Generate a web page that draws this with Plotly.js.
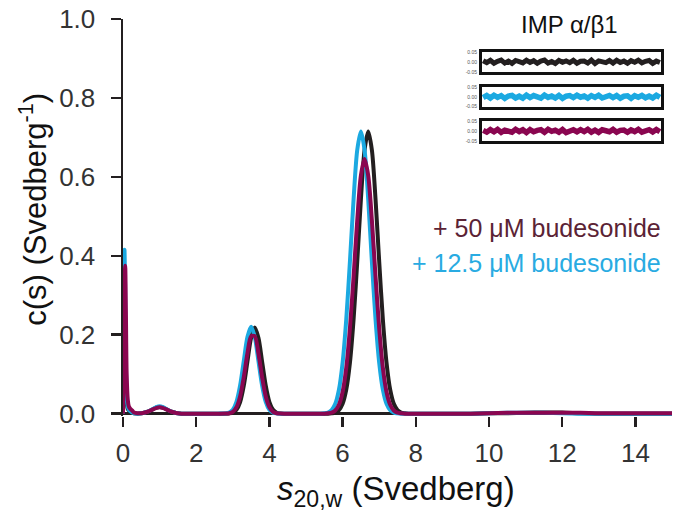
<!DOCTYPE html>
<html>
<head>
<meta charset="utf-8">
<script src="https://cdn.plot.ly/plotly-3.0.1.min.js"></script>
<style>html,body{margin:0;padding:0;background:#fff;}#chart{width:679px;height:513px;}</style>
</head>
<body>
<div id="chart"></div>
<script>
// sedimentation coefficient grid (Svedberg)
var S = [0, 0.02, 0.04, 0.06, 0.08, 0.1, 0.13, 0.16, 0.2, 0.25, 0.3,
  0.4, 0.5, 0.6, 0.7, 0.8, 0.9, 1.0, 1.1, 1.2, 1.3, 1.4, 1.5, 1.6,
  1.8, 2.0, 2.2, 2.4, 2.6, 2.8,
  2.9, 3.0, 3.1, 3.2, 3.3, 3.4, 3.5, 3.6, 3.7, 3.8, 3.9, 4.0, 4.1, 4.2, 4.3, 4.4,
  4.6, 4.8, 5.0, 5.2, 5.4,
  5.5, 5.6, 5.7, 5.8, 5.9, 6.0, 6.1, 6.2, 6.3, 6.4, 6.5, 6.6, 6.7, 6.8, 6.9, 7.0, 7.1, 7.2, 7.3, 7.4, 7.5, 7.6, 7.7, 7.8,
  8.0, 8.5, 9.0, 9.5, 10.0, 10.5, 11.0, 11.5, 12.0, 12.5, 13.0, 14.0, 15.0];

// IMP alpha/beta1 alone (black)
var cBlack = [0, 0.22, 0.30, 0.22, 0.09, 0.03, 0.012, 0.008, 0.005, 0.003, 0.001,
  0.000, 0.001, 0.003, 0.006, 0.010, 0.015, 0.017, 0.015, 0.010, 0.006, 0.003, 0.001, 0.000,
  0, 0, 0, 0, 0, 0,
  0.0005, 0.0024, 0.0096, 0.0294, 0.0708, 0.132, 0.192, 0.218, 0.192, 0.132, 0.0708, 0.0294, 0.0096, 0.0024, 0.0005, 0,
  0, 0, 0, 0, 0,
  0, 0, 0.001, 0.0028, 0.0089, 0.0248, 0.0606, 0.129, 0.239, 0.385, 0.543, 0.668, 0.715, 0.668, 0.543, 0.385, 0.239, 0.129, 0.0606, 0.0248, 0.0089, 0.0028, 0.001, 0,
  0, 0, 0, 0, 0.001, 0.001, 0.002, 0.003, 0.003, 0.001, 0, 0, 0];

// + 12.5 uM budesonide (cyan)
var cCyan = [0, 0.30, 0.415, 0.30, 0.12, 0.045, 0.018, 0.010, 0.006, 0.003, 0.001,
  0.000, 0.001, 0.003, 0.006, 0.011, 0.016, 0.019, 0.016, 0.011, 0.006, 0.003, 0.001, 0.000,
  0, 0, 0, 0, 0, 0.0005,
  0.0024, 0.0097, 0.0297, 0.0715, 0.1335, 0.194, 0.220, 0.194, 0.1335, 0.0715, 0.0297, 0.0097, 0.0024, 0.0005, 0, 0,
  0, 0, 0, 0, 0,
  0.001, 0.0028, 0.0089, 0.0248, 0.0606, 0.129, 0.239, 0.385, 0.543, 0.668, 0.715, 0.668, 0.543, 0.385, 0.239, 0.129, 0.0606, 0.0248, 0.0089, 0.0028, 0.001, 0, 0, 0,
  0, 0, 0, 0, 0.001, 0.002, 0.002, 0.002, 0.001, 0, 0, 0, 0];

// + 50 uM budesonide (magenta)
var cMagenta = [0, 0.12, 0.30, 0.375, 0.25, 0.10, 0.035, 0.018, 0.012, 0.008, 0.003,
  0.001, 0.001, 0.003, 0.006, 0.010, 0.014, 0.016, 0.014, 0.010, 0.006, 0.003, 0.001, 0,
  0, 0, 0, 0, 0, 0.0002,
  0.001, 0.0046, 0.0161, 0.0436, 0.0925, 0.1525, 0.196, 0.196, 0.1525, 0.0925, 0.0436, 0.0161, 0.0046, 0.001, 0.0002, 0,
  0, 0, 0, 0, 0,
  0, 0.001, 0.0025, 0.008, 0.0224, 0.0547, 0.116, 0.216, 0.347, 0.490, 0.603, 0.645, 0.603, 0.490, 0.347, 0.216, 0.116, 0.0547, 0.0224, 0.008, 0.0025, 0.001, 0, 0,
  0, 0, 0, 0, 0.001, 0.002, 0.002, 0.002, 0.002, 0.002, 0.001, 0.001, 0.001];

// fit residuals (insets)
var resBlack = [0.006,-0.004,0.008,-0.007,0.003,0.009,-0.006,0.004,-0.008,0.007,0.001,-0.005,0.008,-0.003,0.006,-0.007,0.004,0.009,-0.006,0.002,-0.008,0.007,-0.002,0.005,-0.004,0.008,-0.007,0.003,0.004,-0.006,0.009,-0.008,0.005,0.001,-0.004,0.007,-0.006,0.008,-0.003,0.004,-0.007,0.006,-0.002,0.008,-0.005,0.003,0.007,-0.008,0.004,-0.003];
var resCyan = [-0.004,0.007,-0.006,0.008,-0.003,0.006,-0.008,0.004,0.007,-0.006,0.003,-0.007,0.008,-0.004,0.006,0.001,-0.007,0.008,-0.003,0.004,-0.006,0.007,-0.008,0.003,0.006,-0.004,0.008,-0.002,0.004,-0.007,0.006,-0.003,0.008,-0.006,0.004,0.007,-0.004,0.006,-0.007,0.003,0.005,-0.008,0.006,-0.002,0.007,-0.005,0.004,-0.006,0.008,-0.003];
var resMagenta = [0.003,-0.006,0.007,-0.004,0.008,-0.007,0.004,0.001,-0.006,0.008,-0.003,0.006,-0.008,0.007,-0.004,0.003,0.006,-0.007,0.008,-0.002,0.004,-0.006,0.007,-0.008,0.003,0.006,-0.004,0.007,-0.003,0.008,-0.006,0.004,-0.007,0.006,0.001,-0.004,0.008,-0.006,0.003,0.004,-0.007,0.005,-0.003,0.008,-0.006,0.002,0.006,-0.005,0.007,-0.004];

var yTicks = [0, 0.2, 0.4, 0.6, 0.8, 1.0];
var xTicks = [0, 2, 4, 6, 8, 10, 12, 14];
var resTicks = [-0.05, 0, 0.05];
var resTickText = ['-0.05', '0.00', '0.05'];

var K = '#231f20', C = '#1ba9e1', M = '#8a0650';
var FONT = 'Liberation Sans, Arial, Helvetica, sans-serif';

function idx(a) { return a.map(function (_, i) { return i; }); }

var traces = [
  {x: S, y: cBlack, type: 'scatter', mode: 'lines', line: {color: K, width: 4, shape: 'spline', smoothing: 0.8}, xaxis: 'x', yaxis: 'y'},
  {x: S, y: cCyan, type: 'scatter', mode: 'lines', line: {color: C, width: 4, shape: 'spline', smoothing: 0.8}, xaxis: 'x', yaxis: 'y'},
  {x: S, y: cMagenta, type: 'scatter', mode: 'lines', line: {color: M, width: 4, shape: 'spline', smoothing: 0.8}, xaxis: 'x', yaxis: 'y'},
  {x: idx(resBlack), y: resBlack, type: 'scatter', mode: 'lines', line: {color: K, width: 5}, xaxis: 'x2', yaxis: 'y2'},
  {x: idx(resCyan), y: resCyan, type: 'scatter', mode: 'lines', line: {color: C, width: 5.5}, xaxis: 'x3', yaxis: 'y3'},
  {x: idx(resMagenta), y: resMagenta, type: 'scatter', mode: 'lines', line: {color: M, width: 5.5}, xaxis: 'x4', yaxis: 'y4'}
];

function insetX(anchor) {
  return {domain: [0.654, 0.98], anchor: anchor, range: [-0.3, 49.3], showgrid: false, zeroline: false,
    showline: true, mirror: true, linecolor: '#111', linewidth: 3, ticks: '', showticklabels: false};
}
function insetY(anchor, dom) {
  return {domain: dom, anchor: anchor, range: [-0.05, 0.05], showgrid: false, zeroline: false,
    showline: true, mirror: true, linecolor: '#111', linewidth: 3, ticks: '',
    tickvals: resTicks, ticktext: resTickText, tickfont: {size: 5, color: '#555', family: FONT}, ticklabelstandoff: 1};
}

var layout = {
  width: 679, height: 513,
  margin: {l: 123, r: 7, t: 19, b: 97},
  paper_bgcolor: '#fff', plot_bgcolor: '#fff',
  showlegend: false,
  font: {family: FONT, color: K},
  xaxis: {domain: [0, 1], range: [0, 15], tickvals: xTicks, ticks: 'outside', ticklen: 10, tickwidth: 2.5, tickcolor: K,
    showline: false, showgrid: false, zeroline: false, tickfont: {size: 26, color: '#333', family: FONT}, ticklabelstandoff: 4},
  yaxis: {domain: [0, 1], range: [-0.006, 1.0], tickvals: yTicks, tickformat: '.1f', ticks: 'outside', ticklen: 10, tickwidth: 2.5, tickcolor: K,
    showline: true, linecolor: K, linewidth: 2.5, showgrid: false,
    zeroline: true, zerolinecolor: K, zerolinewidth: 2.5,
    tickfont: {size: 26, color: '#333', family: FONT}, ticklabelstandoff: 10},
  xaxis2: insetX('y2'), yaxis2: insetY('x2', [0.867, 0.917]),
  xaxis3: insetX('y3'), yaxis3: insetY('x3', [0.779, 0.829]),
  xaxis4: insetX('y4'), yaxis4: insetY('x4', [0.693, 0.743]),
  annotations: [
    {text: 'IMP α/β1', xref: 'paper', yref: 'paper', x: 0.814, y: 0.985, xanchor: 'center', yanchor: 'middle', showarrow: false,
      font: {size: 24, color: '#111', family: FONT}},
    {text: '+ 50 μM budesonide', xref: 'paper', yref: 'paper', x: 0.984, y: 0.474, xanchor: 'right', yanchor: 'middle', showarrow: false,
      font: {size: 25, color: '#5b2335', family: FONT}},
    {text: '+ 12.5 μM budesonide', xref: 'paper', yref: 'paper', x: 0.984, y: 0.386, xanchor: 'right', yanchor: 'middle', showarrow: false,
      font: {size: 25, color: '#29abe2', family: FONT}},
    {text: 'c(s) (Svedberg<sup>-1</sup>)', xref: 'paper', yref: 'paper', x: -0.164, y: 0.522, xanchor: 'center', yanchor: 'middle',
      textangle: -90, showarrow: false, font: {size: 31, color: '#111', family: FONT}},
    {text: '<i>s</i><sub>20,w</sub> (Svedberg)', xref: 'paper', yref: 'paper', x: 0.498, y: -0.19, xanchor: 'center', yanchor: 'middle',
      showarrow: false, font: {size: 33, color: '#111', family: FONT}}
  ]
};

Plotly.newPlot('chart', traces, layout, {staticPlot: true, displayModeBar: false});
</script>
</body>
</html>
